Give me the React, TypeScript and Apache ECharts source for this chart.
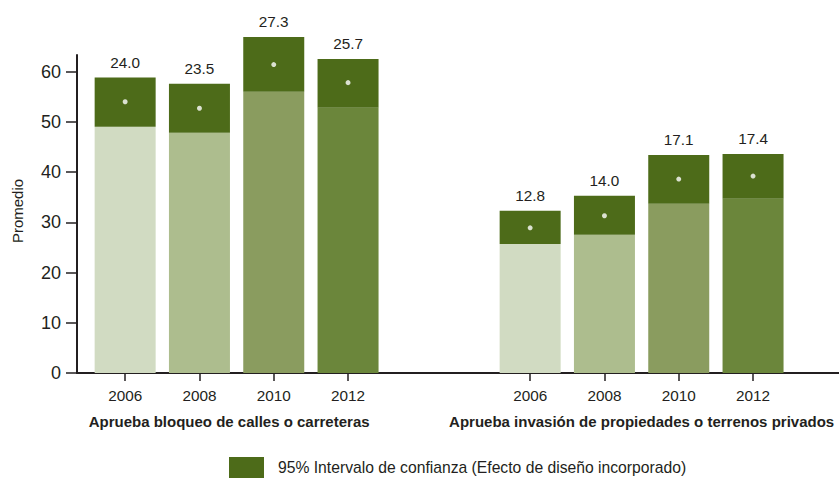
import React, { useEffect, useRef } from "react";
import * as echarts from "echarts";

const years = ["2006", "2008", "2010", "2012"];
const lowerLeft = [49.0, 47.8, 56.0, 52.8];
const upperLeft = [58.8, 57.6, 66.9, 62.5];
const meanLeft = [54.0, 52.7, 61.4, 57.8];
const labelsLeft = ["24.0", "23.5", "27.3", "25.7"];
const lowerRight = [25.7, 27.5, 33.7, 34.7];
const upperRight = [32.3, 35.3, 43.4, 43.6];
const meanRight = [28.9, 31.3, 38.6, 39.2];
const labelsRight = ["12.8", "14.0", "17.1", "17.4"];
const yTicks = [0, 10, 20, 30, 40, 50, 60];
const titleLeft = "Aprueba bloqueo de calles o carreteras";
const titleRight = "Aprueba invasión de propiedades o terrenos privados";
const ciName = "95% Intervalo de confianza (Efecto de diseño incorporado)";
const yName = "Promedio";

const yearColors = ["#d1dbc2", "#adbd8e", "#8a9c5f", "#6b863b"];
const ciColor = "#4d6b19";
const textColor = "#231f20";
const FONT = "'Liberation Sans', Arial, sans-serif";
const FS = 15.3;
const YMAX = 63.3;

export default function App() {
  const ref = useRef<HTMLDivElement>(null);
  useEffect(() => {
    document.body.style.margin = "0";
    const chart = echarts.init(ref.current!, null, { renderer: "svg" });
    const grids = [
      { left: 77, right: 0, top: 55, bottom: 105 },
      { left: 88, width: 297.2, top: 55, bottom: 105 },
      { left: 493, width: 297.2, top: 55, bottom: 105 },
    ].map((g) => ({ ...g, containLabel: false, outerBoundsMode: "none" }));

    const catAxis = (gi: number, name: string, pad: number[]) => ({
      type: "category",
      gridIndex: gi,
      data: years,
      boundaryGap: true,
      axisLine: { show: false },
      axisTick: { show: true, alignWithLabel: true, length: 8, lineStyle: { color: textColor, width: 1.5 } },
      axisLabel: { color: textColor, fontFamily: FONT, fontSize: FS, margin: 15 },
      name,
      nameLocation: "middle",
      nameGap: 41,
      nameTextStyle: { color: textColor, fontFamily: FONT, fontSize: 15, fontWeight: "bold", padding: pad },
    });
    const hiddenY = (gi: number) => ({
      type: "value",
      gridIndex: gi,
      min: 0,
      max: YMAX,
      show: false,
    });

    const makeSeries = (gi: number, lower: number[], upper: number[], mean: number[], labels: string[]) => [
      {
        type: "bar",
        xAxisIndex: gi,
        yAxisIndex: gi,
        stack: "s" + gi,
        barWidth: 61,
        clip: false,
        silent: true,
        data: lower.map((v, i) => ({ value: v, itemStyle: { color: yearColors[i] } })),
      },
      {
        type: "bar",
        name: ciName,
        xAxisIndex: gi,
        yAxisIndex: gi,
        stack: "s" + gi,
        barWidth: 61,
        clip: false,
        silent: true,
        itemStyle: { color: ciColor },
        label: {
          show: true,
          position: "top",
          distance: 8,
          color: textColor,
          fontFamily: FONT,
          fontSize: FS,
          formatter: (p: any) => labels[p.dataIndex],
        },
        data: upper.map((u, i) => +(u - lower[i]).toFixed(2)),
      },
      {
        type: "scatter",
        xAxisIndex: gi,
        yAxisIndex: gi,
        symbolSize: 5,
        clip: false,
        silent: true,
        itemStyle: { color: "#ffffff" },
        z: 5,
        data: mean,
      },
    ];

    chart.setOption({
      animation: false,
      grid: grids,
      legend: {
        data: [ciName],
        left: 229,
        top: 457,
        padding: 0,
        icon: "rect",
        itemWidth: 35,
        itemHeight: 21,
        selectedMode: false,
        textStyle: { color: textColor, fontFamily: FONT, fontSize: 15.7, padding: [0, 0, 0, 9] },
      },
      xAxis: [
        {
          type: "value",
          gridIndex: 0,
          min: 0,
          max: 1,
          axisLine: { show: true, lineStyle: { color: textColor, width: 2 } },
          axisTick: { show: false },
          axisLabel: { show: false },
          splitLine: { show: false },
        },
        catAxis(1, titleLeft, [0, 15, 0, 0]),
        catAxis(2, titleRight, [0, 0, 0, 0]),
      ],
      yAxis: [
        {
          type: "value",
          gridIndex: 0,
          min: 0,
          max: YMAX,
          interval: 10,
          axisLine: { show: true, lineStyle: { color: textColor, width: 2 } },
          axisTick: { show: true, length: 11, customValues: yTicks, lineStyle: { color: textColor, width: 1.5 } },
          axisLabel: { color: textColor, fontFamily: FONT, fontSize: 18, margin: 16, customValues: yTicks },
          splitLine: { show: false },
          name: yName,
          nameLocation: "middle",
          nameGap: 52,
          nameTextStyle: { color: textColor, fontFamily: FONT, fontSize: 15, padding: [0, 0, 0, 6] },
        },
        hiddenY(1),
        hiddenY(2),
      ],
      series: [
        ...makeSeries(1, lowerLeft, upperLeft, meanLeft, labelsLeft),
        ...makeSeries(2, lowerRight, upperRight, meanRight, labelsRight),
      ],
    });
    return () => chart.dispose();
  }, []);
  return <div ref={ref} style={{ width: 839, height: 478 }} />;
}
